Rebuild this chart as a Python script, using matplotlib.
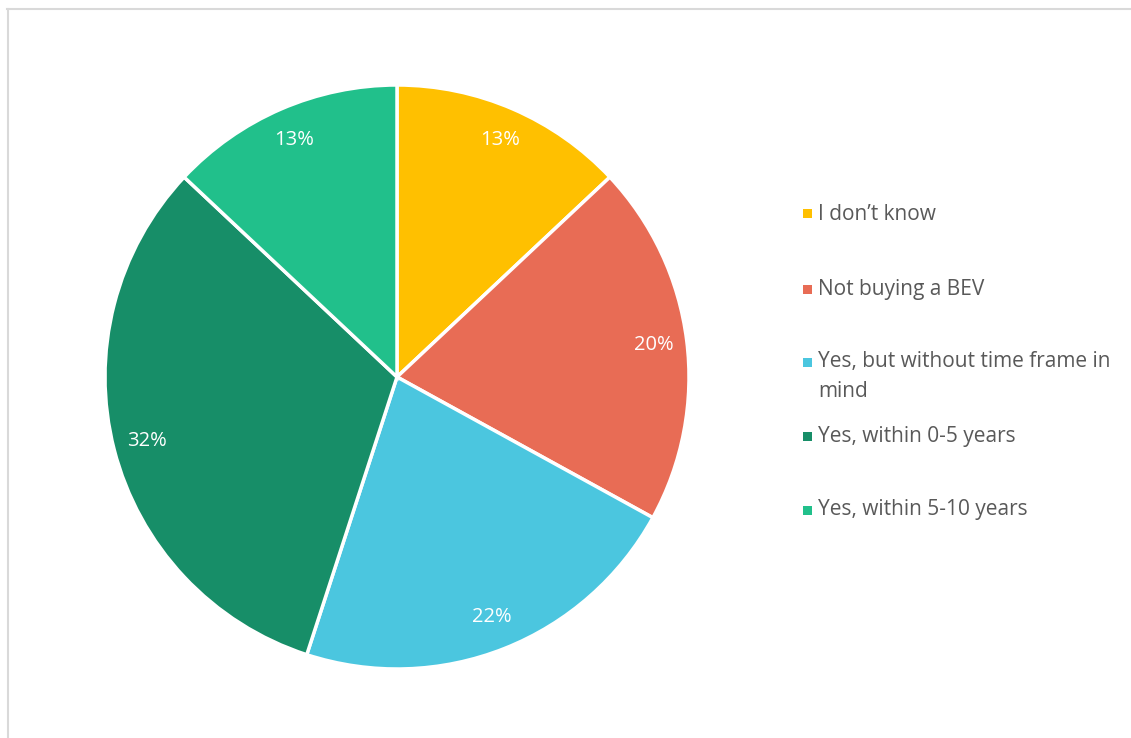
import matplotlib.pyplot as plt
from matplotlib.patches import Rectangle
from matplotlib.lines import Line2D

categories = ["I don\u2019t know", "Not buying a BEV", "Yes, but without time frame in\nmind",
              "Yes, within 0-5 years", "Yes, within 5-10 years"]
shares = [13, 20, 22, 32, 13]
colors = ["#FFC000", "#E86C55", "#4BC6DF", "#178E68", "#21C08B"]

W, H, DPI = 1131, 738, 100
fig = plt.figure(figsize=(W / DPI, H / DPI), dpi=DPI)
fig.patch.set_facecolor("white")

# light frame (top and left edges visible)
fig.add_artist(Line2D([7.5 / W, 7.5 / W], [0, 1 - 9 / H], transform=fig.transFigure,
                      color="#D9D9D9", lw=1.5))
fig.add_artist(Line2D([7 / W, 1], [1 - 9 / H, 1 - 9 / H], transform=fig.transFigure,
                      color="#D9D9D9", lw=1.5))

cx, cy, r = 397, 377, 292
ax = fig.add_axes([(cx - r) / W, (H - cy - r) / H, 2 * r / W, 2 * r / H])
wedges, texts = ax.pie(shares, colors=colors, startangle=90, counterclock=False,
                       labels=[f"{v}%" for v in shares], labeldistance=0.885,
                       wedgeprops=dict(edgecolor="white", linewidth=2.5),
                       textprops=dict(color="white", fontsize=14.5, family="Open Sans"))
for t in texts:
    t.set_horizontalalignment("center")
    t.set_verticalalignment("center")
ax.set_xlim(-1, 1)
ax.set_ylim(-1, 1)
ax.set_aspect("equal")
ax.axis("off")

# legend: square marker followed by the (possibly wrapped) label
legend_y = [214, 289, 362, 437, 510]
line_gap = 29
for lab, col, y in zip(categories, colors, legend_y):
    fig.add_artist(Rectangle((803 / W, 1 - (y + 4.5) / H), 9 / W, 9 / H,
                             transform=fig.transFigure, facecolor=col, edgecolor="none"))
    for i, line in enumerate(lab.split("\n")):
        fig.text(818 / W, 1 - (y + i * line_gap) / H, line, fontsize=15,
                 color="#595959", family="Open Sans", va="center")

fig.savefig("out.png", dpi=DPI, facecolor="white")
